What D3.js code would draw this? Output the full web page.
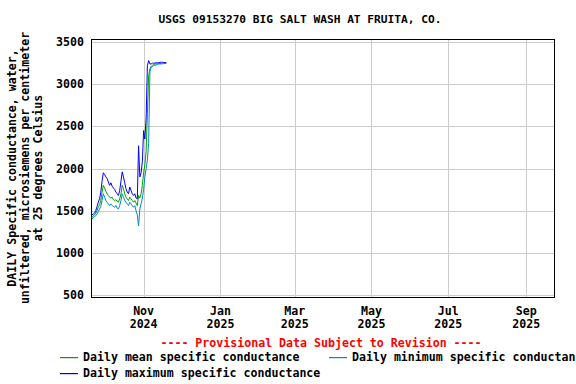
<!DOCTYPE html>
<html>
<head>
<meta charset="utf-8">
<script src="https://cdn.jsdelivr.net/npm/d3@7"></script>
<style>
  body { margin: 0; background: #fff; }
  svg text { font-family: "DejaVu Sans Mono", monospace; font-weight: bold; font-size: 11.6px; }
  svg text.title { font-size: 11.2px; }
</style>
</head>
<body>
<svg class="chart" width="576" height="384"></svg>
<script>
// daily values, Sep 21 2024 .. Nov 19 2024
var startDay = '2024-09-21'
var dailyMax = [1450, 1460, 1470, 1500, 1550, 1600, 1640, 1720, 1850, 1950,
  1930, 1900, 1880, 1840, 1800, 1830, 1790, 1770, 1750, 1720,
  1700, 1680, 1740, 1850, 1960, 1900, 1830, 1760, 1720, 1700,
  1780, 1740, 1700, 1680, 1700, 1650, 1640, 2270, 1900, 1950,
  2080, 2450, 2350, 2600, 3220, 3280, 3240, 3240, 3250, 3250,
  3250, 3255, 3255, 3255, 3260, 3260, 3260, 3258, 3258, 3255]
var dailyMean = [1420, 1440, 1450, 1470, 1500, 1540, 1570, 1620, 1720, 1800,
  1770, 1730, 1700, 1680, 1660, 1650, 1660, 1630, 1620, 1630,
  1610, 1600, 1640, 1700, 1800, 1760, 1700, 1660, 1640, 1620,
  1660, 1640, 1620, 1600, 1620, 1590, 1560, 1680, 1650, 1700,
  1800, 1950, 2050, 2200, 2650, 3100, 3180, 3210, 3225, 3235,
  3240, 3240, 3245, 3245, 3245, 3248, 3250, 3250, 3250, 3250]
var dailyMin = [1400, 1420, 1430, 1440, 1460, 1490, 1520, 1550, 1620, 1700,
  1660, 1620, 1600, 1580, 1560, 1580, 1560, 1550, 1540, 1560,
  1530, 1520, 1560, 1620, 1700, 1660, 1620, 1600, 1580, 1560,
  1600, 1580, 1560, 1540, 1560, 1500, 1450, 1320, 1520, 1580,
  1650, 1750, 1900, 2000, 2100, 2300, 3150, 3200, 3210, 3220,
  3225, 3230, 3235, 3238, 3240, 3240, 3242, 3245, 3245, 3245]

var yTicks = [500, 1000, 1500, 2000, 2500, 3000, 3500]
var xTicks = ['2024-11-01', '2025-01-01', '2025-03-01', '2025-05-01', '2025-07-01', '2025-09-01']

var title = 'USGS 09153270 BIG SALT WASH AT FRUITA, CO.'
var yLabel = ['DAILY Specific conductance, water,',
  'unfiltered, microsiemens per centimeter',
  'at 25 degrees Celsius']
var series = [
  {name: 'Daily mean specific conductance', values: dailyMean, color: '#00a000'},
  {name: 'Daily minimum specific conductance', values: dailyMin, color: '#0088d0'},
  {name: 'Daily maximum specific conductance', values: dailyMax, color: '#0000ff'}
]

var parse = d3.utcParse('%Y-%m-%d')
var fmtMon = d3.utcFormat('%b'), fmtYr = d3.utcFormat('%Y')
var days = d3.utcDay.range(parse(startDay), d3.utcDay.offset(parse(startDay), dailyMax.length))

var margin = {top: 39, right: 22, bottom: 87, left: 92}
var width = 576 - margin.left - margin.right, height = 384 - margin.top - margin.bottom

var svg = d3.select('.chart')
var chart = svg.append('g')
    .attr('transform', `translate(${margin.left}, ${margin.top})`)

var x = d3.scaleUtc()
    .domain([parse('2024-09-21'), parse('2025-09-23')])
    .range([0, width])
var y = d3.scaleLinear()
    .domain([476, 3536])
    .range([height, 0])

// grid
chart.selectAll('.hgrid').data(yTicks).enter().append('line')
    .attr('x1', 0).attr('x2', width)
    .attr('y1', function(d) { return Math.round(y(d)) + 0.5 })
    .attr('y2', function(d) { return Math.round(y(d)) + 0.5 })
    .attr('stroke', '#cccccc')
chart.selectAll('.vgrid').data(xTicks).enter().append('line')
    .attr('x1', function(d) { return Math.round(x(parse(d))) + 0.5 })
    .attr('x2', function(d) { return Math.round(x(parse(d))) + 0.5 })
    .attr('y1', 0).attr('y2', height)
    .attr('stroke', '#cccccc')

// tick labels
chart.selectAll('.ylab').data(yTicks).enter().append('text')
    .attr('x', -8).attr('y', function(d) { return y(d) + 4 })
    .attr('text-anchor', 'end')
    .text(function(d) { return d })
var xl = chart.selectAll('.xlab').data(xTicks).enter().append('text')
    .attr('text-anchor', 'middle')
    .attr('transform', function(d) { return `translate(${x(parse(d))}, ${height + 18})` })
xl.append('tspan').attr('x', 0).text(function(d) { return fmtMon(parse(d)) })
xl.append('tspan').attr('x', 0).attr('dy', 13).text(function(d) { return fmtYr(parse(d)) })

// lines
var line = d3.line()
    .x(function(d, i) { return x(days[i]) })
    .y(function(d) { return y(d) })
series.forEach(function(s) {
  chart.append('path')
      .attr('d', line(s.values))
      .attr('fill', 'none')
      .attr('stroke', s.color)
      .attr('stroke-width', 1)
})

// frame
chart.append('rect')
    .attr('x', -0.5).attr('y', 0.5)
    .attr('width', width + 1).attr('height', height)
    .attr('fill', 'none').attr('stroke', '#000')

// title and axis label
svg.append('text').attr('class', 'title')
    .attr('x', 300).attr('y', 23).attr('text-anchor', 'middle').text(title)
var yl = svg.append('text')
    .attr('text-anchor', 'middle')
    .attr('transform', 'translate(16, 168) rotate(-90)')
yLabel.forEach(function(t, i) {
  yl.append('tspan').attr('x', 0).attr('dy', i == 0 ? 0 : 13).text(t)
})

svg.append('text')
    .attr('x', 321).attr('y', 347)
    .attr('text-anchor', 'middle')
    .attr('fill', '#ff0000')
    .text('---- Provisional Data Subject to Revision ----')

// legend
var legendPos = [[60, 357], [329, 357], [60, 373]]
series.forEach(function(s, i) {
  var p = legendPos[i]
  svg.append('rect')
      .attr('x', p[0]).attr('y', p[1])
      .attr('width', 18).attr('height', 1.2)
      .attr('fill', s.color)
  svg.append('text')
      .attr('x', p[0] + 23).attr('y', p[1] + 4)
      .text(s.name)
})
</script>
</body>
</html>
